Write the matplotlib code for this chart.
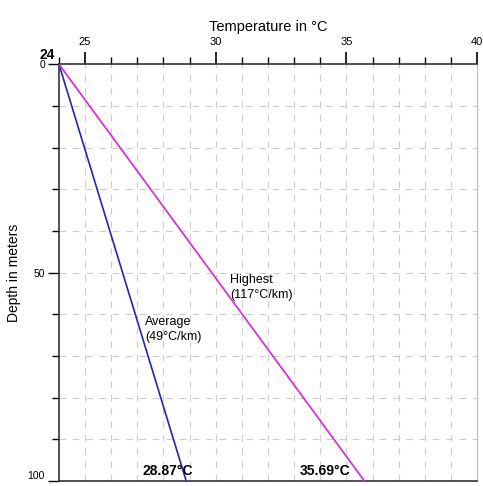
import matplotlib
matplotlib.use("Agg")
import matplotlib.pyplot as plt
from matplotlib.ticker import MultipleLocator

plt.rcParams['font.family'] = ['Liberation Sans', 'DejaVu Sans']

# data: temperature profiles from surface (24 C) down to 100 m
surface_temp = 24
depths = [0, 100]
avg_temps = [24, 28.87]
high_temps = [24, 35.69]
avg_label = "Average\n(49°C/km)"
high_label = "Highest\n(117°C/km)"

fig = plt.figure(figsize=(4.83, 4.86), dpi=100)
ax = fig.add_axes([0.122, 0.010, 0.866, 0.858])

ax.plot(avg_temps, depths, color='#2222cc', lw=1.2, zorder=3)
ax.plot(high_temps, depths, color='#dd22dd', lw=1.2, zorder=3)

ax.set_xlim(24, 40)
ax.set_ylim(100, 0)

# axis on top
ax.xaxis.set_ticks_position('top')
ax.xaxis.set_label_position('top')
ax.xaxis.set_minor_locator(MultipleLocator(1))
ax.set_xticks([25, 30, 35, 40])
ax.set_yticks([0, 50, 100])
ax.yaxis.set_minor_locator(MultipleLocator(10))
ax.tick_params(axis='x', which='major', length=9, width=1.2, labelsize=8, pad=3)
ax.tick_params(axis='x', which='minor', length=5, width=1.0)
ax.tick_params(axis='y', which='major', length=8, width=1.0, labelsize=7.5, pad=2)
ax.tick_params(axis='y', which='minor', length=5, width=1.0)
for lbl in ax.get_yticklabels():
    if lbl.get_text() == '100':
        lbl.set_va('bottom')

ax.set_xlabel("Temperature in °C", fontsize=10.5, labelpad=5)
ax.set_ylabel("Depth in meters", fontsize=10, labelpad=5)

# dashed grid
for t in range(25, 40):
    ax.axvline(t, color='#cccccc', lw=0.8, ls=(0, (6, 6)), zorder=0)
for d in range(10, 100, 10):
    ax.axhline(d, color='#cccccc', lw=0.8, ls=(0, (6, 6)), zorder=0)

for s in ['top', 'left', 'bottom']:
    ax.spines[s].set_color('#333333')
    ax.spines[s].set_linewidth(1.2)
ax.spines['right'].set_color('#bbbbbb')

ax.text(surface_temp - 0.15, -0.5, str(surface_temp), fontsize=10, fontweight='bold',
        ha='right', va='bottom')
ax.text(30.55, 50.3, high_label, fontsize=9, ha='left', va='top', linespacing=1.35)
ax.text(27.3, 60.3, avg_label, fontsize=9, ha='left', va='top', linespacing=1.35)
ax.text(27.2, 99.3, f"{avg_temps[1]}°C", fontsize=10, fontweight='bold',
        ha='left', va='bottom')
ax.text(33.2, 99.3, f"{high_temps[1]}°C", fontsize=10, fontweight='bold',
        ha='left', va='bottom')

fig.savefig("out.png", dpi=100)
